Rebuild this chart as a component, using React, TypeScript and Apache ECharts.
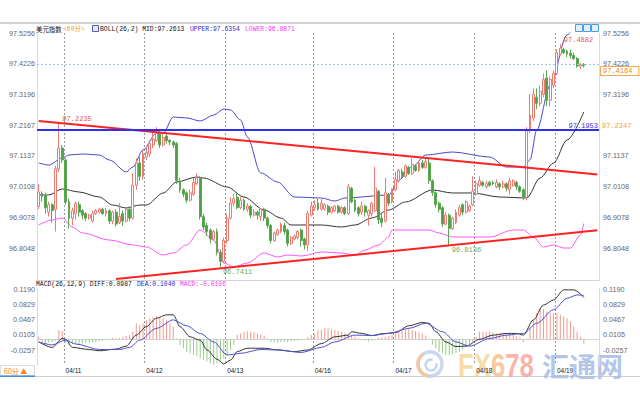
import React, { useEffect, useRef } from "react";
import * as echarts from "echarts";

// ---- axis / category data ----
const dayLabels = ["04/11", "04/12", "04/13", "04/16", "04/17", "04/18", "04/19"];
const dayStartIdx = [8, 32, 56, 82, 106, 130, 154];
const slotCount = 167;

const priceTicks = [96.8048, 96.9078, 97.0108, 97.1137, 97.2167, 97.3196, 97.4226, 97.5256];
const priceTicksRight = [96.8048, 96.9078, 97.0108, 97.1137, 97.3196, 97.4226, 97.5256];
const priceMin = 96.6976;
const priceMax = 97.5256;
const macdTicks = [-0.0257, 0.0105, 0.0467, 0.0829, 0.119];
const macdMin = -0.0606;
const macdMax = 0.119;

// ---- 60-minute candles (open, close, low, high) ----
const opens = [
  96.944, 96.988, 96.98, 96.925, 96.95, 96.935, 97.07, 97.14, 97.10, 96.96,
  96.905, 96.92, 96.95, 96.93, 96.92, 96.905, 96.895, 96.92, 96.925, 96.935,
  96.92, 96.93, 96.895, 96.925, 96.89, 96.92, 96.895, 96.935, 96.905, 97.015,
  97.09, 97.045, 97.11, 97.12, 97.15, 97.165, 97.19, 97.15, 97.18, 97.165,
  97.16, 97.155, 97.03, 97.0, 96.99, 96.965, 96.985, 97.02, 97.04, 96.91,
  96.88, 96.865, 96.835, 96.86, 96.79, 96.76, 96.83, 96.905, 96.955, 96.975,
  96.94, 96.965, 96.935, 96.945, 96.915, 96.925, 96.91, 96.935, 96.905, 96.88,
  96.83, 96.85, 96.86, 96.88, 96.865, 96.82, 96.835, 96.84, 96.865, 96.835,
  96.815, 96.915, 96.94, 96.955, 96.935, 96.935, 96.945, 96.925, 96.93, 96.945,
  96.925, 96.94, 96.92, 97.005, 96.965, 96.94, 96.925, 96.945, 96.915, 96.92,
  96.93, 96.995, 96.905, 96.895, 96.985, 96.96, 97.0, 97.03, 97.06, 97.045,
  97.075, 97.055, 97.08, 97.065, 97.09, 97.075, 97.09, 97.03, 96.99, 96.955,
  96.94, 96.885, 96.915, 96.87, 96.89, 96.915, 96.95, 96.925, 96.93, 96.95,
  96.985, 97.015, 97.025, 97.01, 97.025, 97.025, 97.01, 97.02, 97.01, 97.02,
  97.0, 97.015, 97.025, 97.01, 97.0, 96.975, 97.20, 97.24, 97.31, 97.29,
  97.32, 97.375, 97.30, 97.35, 97.39, 97.455, 97.47, 97.465, 97.458, 97.45,
  97.44, 97.415, 97.42,
];
const closes = [
  96.992, 96.977, 96.94, 96.95, 96.93, 97.07, 97.14, 97.10, 96.96, 96.905,
  96.93, 96.955, 96.925, 96.915, 96.905, 96.915, 96.92, 96.93, 96.935, 96.92,
  96.93, 96.895, 96.925, 96.885, 96.91, 96.895, 96.935, 96.905, 97.015, 97.09,
  97.045, 97.12, 97.125, 97.155, 97.17, 97.19, 97.15, 97.175, 97.165, 97.16,
  97.15, 97.03, 97.0, 96.985, 96.965, 96.99, 97.025, 97.04, 96.91, 96.875,
  96.86, 96.835, 96.86, 96.79, 96.76, 96.83, 96.905, 96.955, 96.97, 96.94,
  96.965, 96.935, 96.945, 96.915, 96.925, 96.915, 96.935, 96.905, 96.88, 96.83,
  96.855, 96.865, 96.885, 96.86, 96.82, 96.84, 96.845, 96.86, 96.83, 96.815,
  96.92, 96.945, 96.95, 96.935, 96.955, 96.95, 96.925, 96.94, 96.945, 96.925,
  96.94, 96.92, 97.01, 96.96, 96.93, 96.92, 96.945, 96.925, 96.93, 96.955,
  97.005, 96.90, 96.89, 96.99, 96.955, 97.0, 97.035, 97.065, 97.045, 97.08,
  97.055, 97.085, 97.065, 97.09, 97.075, 97.095, 97.03, 96.99, 96.95, 96.935,
  96.885, 96.915, 96.87, 96.905, 96.925, 96.94, 96.925, 96.96, 96.945, 96.995,
  97.02, 97.03, 97.015, 97.02, 97.015, 97.02, 97.025, 97.01, 97.02, 97.005,
  97.03, 97.03, 97.01, 96.995, 96.975, 97.20, 97.25, 97.32, 97.29, 97.33,
  97.37, 97.30, 97.37, 97.39, 97.46, 97.475, 97.46, 97.455, 97.45, 97.44,
  97.415, 97.42, 97.4164,
];
const lows = [
  96.935, 96.96, 96.92, 96.91, 96.89, 96.86, 97.06, 97.09, 96.95, 96.87,
  96.88, 96.90, 96.91, 96.90, 96.895, 96.90, 96.89, 96.915, 96.92, 96.915,
  96.91, 96.885, 96.885, 96.877, 96.885, 96.88, 96.89, 96.895, 96.90, 97.0,
  97.03, 97.035, 97.10, 97.11, 97.14, 97.16, 97.14, 97.145, 97.155, 97.15,
  97.14, 97.02, 96.99, 96.975, 96.955, 96.96, 96.98, 97.015, 96.90, 96.865,
  96.845, 96.82, 96.83, 96.78, 96.7411, 96.755, 96.82, 96.90, 96.945, 96.935,
  96.935, 96.93, 96.925, 96.905, 96.91, 96.90, 96.895, 96.895, 96.87, 96.82,
  96.825, 96.845, 96.855, 96.85, 96.81, 96.815, 96.83, 96.835, 96.81, 96.80,
  96.795, 96.91, 96.93, 96.93, 96.93, 96.93, 96.915, 96.92, 96.925, 96.92,
  96.92, 96.915, 96.915, 96.955, 96.925, 96.91, 96.915, 96.91, 96.88, 96.91,
  96.925, 96.885, 96.875, 96.89, 96.945, 96.955, 96.995, 97.025, 97.04, 97.04,
  97.05, 97.05, 97.06, 97.06, 97.07, 97.07, 97.02, 96.98, 96.94, 96.925,
  96.875, 96.88, 96.8136, 96.865, 96.885, 96.91, 96.915, 96.92, 96.925, 96.945,
  96.98, 97.01, 97.01, 97.005, 97.01, 97.015, 97.005, 97.0, 97.005, 96.995,
  96.985, 97.01, 97.0, 96.99, 96.965, 96.965, 97.19, 97.23, 97.27, 97.28,
  97.31, 97.28, 97.28, 97.34, 97.385, 97.45, 97.455, 97.445, 97.44, 97.435,
  97.41, 97.405, 97.41,
];
const highs = [
  97.02, 96.995, 96.99, 96.96, 96.955, 97.08, 97.2235, 97.15, 97.105, 96.97,
  96.94, 96.96, 96.96, 96.935, 96.925, 96.92, 96.93, 96.935, 96.94, 96.94,
  96.94, 96.935, 96.93, 96.935, 96.955, 96.93, 96.94, 96.945, 97.055, 97.105,
  97.11, 97.13, 97.14, 97.165, 97.2, 97.21, 97.2, 97.19, 97.19, 97.17,
  97.165, 97.16, 97.04, 97.005, 96.995, 97.0, 97.04, 97.055, 97.045, 96.92,
  96.89, 96.87, 96.865, 96.87, 96.8, 96.84, 96.92, 96.975, 96.985, 96.99,
  96.975, 96.97, 96.955, 96.95, 96.935, 96.93, 96.94, 96.94, 96.91, 96.885,
  96.86, 96.87, 96.89, 96.89, 96.87, 96.845, 96.85, 96.865, 96.87, 96.84,
  96.93, 96.96, 96.965, 96.97, 96.97, 96.955, 96.95, 96.945, 96.95, 96.95,
  96.945, 96.945, 97.02, 97.01, 96.97, 96.945, 96.96, 96.95, 96.935, 96.96,
  97.077, 97.0, 96.92, 97.04, 96.99, 97.005, 97.06, 97.07, 97.07, 97.085,
  97.08, 97.105, 97.085, 97.095, 97.10, 97.105, 97.105, 97.035, 96.995, 96.96,
  96.945, 96.925, 96.92, 96.91, 96.935, 96.95, 96.955, 96.965, 96.95, 97.045,
  97.03, 97.045, 97.03, 97.03, 97.03, 97.03, 97.035, 97.025, 97.03, 97.025,
  97.04, 97.035, 97.03, 97.015, 97.005, 97.21, 97.32, 97.34, 97.34, 97.35,
  97.39, 97.40, 97.38, 97.40, 97.47, 97.4882, 97.475, 97.47, 97.47, 97.46,
  97.445, 97.425, 97.425,
];

// ---- BOLL(26,2), read at points along the curves: [candle index, value] ----
const bollMid = [
  [0, 96.9826], [3, 96.9826], [7, 97.0027], [12, 96.9926], [18, 96.9758], [22, 96.949],
  [26, 96.939], [30, 96.949], [32, 96.949], [37, 96.9893], [41, 97.0261], [47, 97.0429],
  [49, 97.0395], [56, 97.0094], [61, 96.9758], [67, 96.9323], [72, 96.9054], [75, 96.882],
  [84, 96.882], [90, 96.8753], [94, 96.882], [99, 96.9054], [104, 96.9323], [109, 96.9591],
  [117, 96.9993], [123, 96.9893], [129, 96.9893], [137, 96.9758], [145, 96.9725],
  [149, 97.0396], [153, 97.0898], [157, 97.1669], [162, 97.2613],
];
const bollUpper = [
  [0, 97.0898], [3, 97.083], [7, 97.1066], [9, 97.1166], [13, 97.12], [18, 97.1166],
  [21, 97.1], [26, 97.06], [28, 97.0764], [31, 97.1334], [35, 97.19], [37, 97.19],
  [40, 97.244], [44, 97.2407], [48, 97.2306], [52, 97.2507], [55, 97.2708], [57, 97.2675],
  [60, 97.234], [62, 97.177], [66, 97.0563], [71, 97.0261], [76, 96.9758], [84, 96.9725],
  [88, 96.9624], [91, 96.9725], [104, 96.9825], [107, 97.0328], [111, 97.0764],
  [115, 97.1166], [123, 97.1267], [134, 97.1099], [139, 97.0764], [144, 97.0764],
  [146, 97.1], [148, 97.2004], [152, 97.35], [157, 97.519], [162, 97.6354],
];
const bollLower = [
  [0, 96.882], [4, 96.8987], [7, 96.9054], [10, 96.8753], [13, 96.8552], [21, 96.8317],
  [28, 96.815], [32, 96.8082], [37, 96.7814], [40, 96.7881], [44, 96.815], [48, 96.8652],
  [52, 96.8317], [55, 96.7546], [58, 96.7412], [62, 96.7546], [67, 96.7881], [71, 96.7747],
  [74, 96.7814], [78, 96.778], [84, 96.7915], [90, 96.7881], [94, 96.7814], [97, 96.7981],
  [101, 96.815], [104, 96.8417], [105, 96.8652], [109, 96.8652], [116, 96.8652],
  [119, 96.8552], [123, 96.8417], [134, 96.8417], [141, 96.8652], [144, 96.8652],
  [147, 96.8417], [150, 96.8082], [153, 96.815], [156, 96.8048], [158, 96.8048],
  [161, 96.8484], [162, 96.8871],
];

// ---- MACD(26,12,9) ----
const macdDiff = [
  [0, -0.006], [4, -0.019], [7, 0.002], [8, 0.0], [10, -0.019], [15, -0.024], [18, -0.027],
  [23, -0.023], [26, -0.016], [29, 0.01], [32, 0.03], [35, 0.05], [38, 0.058], [40, 0.058],
  [42, 0.03], [45, 0.006], [48, -0.002], [50, -0.025], [53, -0.047], [55, -0.058],
  [57, -0.049], [59, -0.029], [62, -0.021], [67, -0.021], [71, -0.025], [76, -0.029],
  [80, -0.025], [84, -0.01], [88, 0.006], [92, 0.01], [93, 0.018], [96, 0.014], [99, 0.009],
  [102, 0.013], [106, 0.016], [110, 0.032], [114, 0.04], [116, 0.038], [118, 0.018],
  [121, -0.006], [124, -0.017], [127, -0.016], [131, 0.0], [135, 0.01], [139, 0.014],
  [142, 0.014], [144, 0.01], [147, 0.046], [150, 0.081], [153, 0.093], [156, 0.117],
  [159, 0.117], [162, 0.0987],
];
const macdDea = [
  [0, -0.006], [4, -0.013], [8, -0.002], [11, -0.011], [18, -0.024], [24, -0.024],
  [27, -0.019], [30, -0.002], [35, 0.026], [40, 0.046], [44, 0.032], [48, 0.014],
  [52, -0.006], [56, -0.037], [60, -0.033], [66, -0.024], [71, -0.025], [78, -0.031],
  [84, -0.019], [88, -0.006], [94, 0.01], [99, 0.009], [104, 0.014], [110, 0.026],
  [115, 0.038], [120, 0.018], [124, -0.006], [128, -0.016], [134, 0.002], [139, 0.01],
  [144, 0.014], [148, 0.038], [153, 0.07], [157, 0.097], [160, 0.105], [162, 0.104],
];
const macdHist = [
  0.006, -0.006, -0.008, -0.008, -0.006, -0.003, 0.022, 0.02, -0.008, -0.013,
  -0.011, -0.01, -0.011, -0.01, -0.008, -0.008, -0.006, -0.006, -0.005, -0.003,
  -0.002, 0.002, 0.003, 0.002, 0.004, 0.006, 0.008, 0.01, 0.018, 0.038,
  0.034, 0.038, 0.046, 0.05, 0.054, 0.054, 0.05, 0.05, 0.046, 0.038,
  0.03, 0.002, -0.013, -0.021, -0.029, -0.033, -0.037, -0.04, -0.045, -0.048,
  -0.052, -0.057, -0.061, -0.057, -0.052, -0.045, -0.037, -0.025, -0.013, 0.01,
  0.014, 0.018, 0.02, 0.018, 0.017, 0.014, 0.012, 0.009, 0.002, -0.006,
  -0.007, -0.008, -0.006, -0.006, -0.006, -0.005, -0.004, -0.003, -0.002, -0.001,
  0.006, 0.01, 0.014, 0.022, 0.022, 0.026, 0.028, 0.024, 0.022, 0.02,
  0.018, 0.016, 0.014, 0.01, 0.006, 0.002, -0.002, -0.003, -0.005, -0.003,
  -0.001, 0.004, 0.006, 0.006, 0.008, 0.01, 0.014, 0.018, 0.021, 0.022,
  0.024, 0.022, 0.02, 0.017, 0.014, 0.009, 0.002, -0.013, -0.021, -0.029,
  -0.033, -0.037, -0.037, -0.035, -0.032, -0.029, -0.024, -0.017, -0.011, -0.006,
  0.006, 0.018, 0.018, 0.018, 0.018, 0.017, 0.014, 0.014, 0.014, 0.014,
  0.013, 0.01, 0.008, 0.006, -0.006, 0.002, 0.03, 0.046, 0.062, 0.074,
  0.071, 0.066, 0.062, 0.062, 0.062, 0.058, 0.054, 0.05, 0.042, 0.03,
  0.018, 0.006, -0.0106,
];

// ---- drawn lines and marked values ----
const upperTrend = [[0, 97.2306], [166, 97.0516]];
const lowerTrend = [[23, 96.7009], [166, 96.864]];
const supportLevel = 97.1953;
const lastPrice = 97.4164;
const markedLevel = 97.2347;
const extremes = [
  { idx: 6, value: 97.2235, high: true },
  { idx: 54, value: 96.7411, high: false },
  { idx: 122, value: 96.8136, high: false },
  { idx: 155, value: 97.4882, high: true },
];
const legendMain = { mid: "97.2613", upper: "97.6354", lower: "96.8871" };
const legendMacd = { diff: "0.0987", dea: "0.1040", macd: "-0.0106" };

const MONO = '"Liberation Mono", "DejaVu Sans Mono", monospace';
const CJK = '"Noto Sans CJK SC", sans-serif';
const SANS = '"Liberation Sans", Arial, sans-serif';

const categories = Array.from({ length: slotCount }, (_, i) => "t" + i);

function xAxisFor(gridIndex: number, showLabel: boolean) {
  return {
    type: "category",
    gridIndex,
    data: categories,
    boundaryGap: true,
    axisLine: { show: true, lineStyle: { color: "#d4d4d4" } },
    axisTick: { show: false },
    axisLabel: showLabel
      ? {
          show: true,
          interval: (i: number) => dayStartIdx.includes(i),
          formatter: (_v: string, i: number) => {
            const k = dayStartIdx.indexOf(i);
            return k >= 0 ? dayLabels[k] : "";
          },
          align: "left",
          margin: 2,
          fontSize: 6.5,
          color: "#222",
          fontFamily: SANS,
        }
      : { show: false },
    splitLine: {
      show: true,
      interval: (i: number) => dayStartIdx.includes(i),
      lineStyle: { color: "#9a9a9a", type: [2, 2], width: 1 },
    },
  };
}

function yAxisFor(gridIndex: number, position: string, min: number, max: number, ticks: number[]) {
  return {
    type: "value",
    gridIndex,
    position,
    min,
    max,
    axisLine: { show: true, lineStyle: { color: "#dadada" } },
    axisTick: { show: false },
    splitLine: { show: false },
    axisLabel: {
      customValues: ticks,
      formatter: (v: number) => v.toFixed(4),
      fontSize: 7.2,
      color: "#666",
      margin: position === "left" ? 2 : 4,
      fontFamily: SANS,
    },
  };
}

function legendText(x: number, y: number, text: string, fill: string, font = MONO) {
  return {
    type: "text",
    silent: true,
    x,
    y,
    style: { text, fill, fontSize: 6.4, fontFamily: font, verticalAlign: "middle", align: "left" },
  };
}

export default function App() {
  const ref = useRef<HTMLDivElement>(null);

  useEffect(() => {
    if (!ref.current) return;
    const chart = echarts.init(ref.current, null, { renderer: "svg" });
    const candleData = opens.map((o, i) => [o, closes[i], lows[i], highs[i]]);

    const option: any = {
      animation: false,
      backgroundColor: "#ffffff",
      grid: [
        { left: 37, right: 41, top: 33, height: 247 },
        { left: 37, right: 41, top: 289, height: 76 },
      ],
      xAxis: [xAxisFor(0, false), xAxisFor(1, true)],
      yAxis: [
        yAxisFor(0, "left", priceMin, priceMax, priceTicks),
        yAxisFor(0, "right", priceMin, priceMax, priceTicksRight),
        yAxisFor(1, "left", macdMin, macdMax, macdTicks),
        yAxisFor(1, "right", macdMin, macdMax, macdTicks),
      ],
      series: [
        {
          type: "candlestick",
          xAxisIndex: 0,
          yAxisIndex: 0,
          data: candleData,
          barWidth: 2.4,
          itemStyle: {
            color: "#ffffff",
            color0: "#4f9e46",
            borderColor: "#ee7b72",
            borderColor0: "#5aa851",
            borderWidth: 1,
          },
          markPoint: {
            symbol: "circle",
            symbolSize: 1,
            itemStyle: { color: "rgba(0,0,0,0)" },
            silent: true,
            data: extremes.map((e) => ({
              coord: [e.idx, e.value],
              value: e.value,
              label: {
                show: true,
                position: "right",
                distance: e.high ? 3 : 2,
                offset: e.high ? [0, -4] : [0, 4.5],
                formatter: () => e.value.toFixed(4),
                color: e.high ? "#e05a55" : "#6aaa58",
                fontSize: 7,
                fontFamily: MONO,
              },
            })),
          },
          markLine: {
            symbol: ["none", "none"],
            silent: true,
            data: [
              {
                yAxis: supportLevel,
                lineStyle: { color: "#2f2ff0", width: 2, type: "solid" },
                label: {
                  show: true,
                  position: "insideEndTop",
                  distance: 1,
                  formatter: supportLevel.toFixed(4),
                  color: "#3535e0",
                  fontSize: 7,
                  fontFamily: MONO,
                },
              },
              {
                yAxis: lastPrice,
                lineStyle: { color: "#92ccf2", width: 1, type: [2, 2] },
                label: {
                  show: true,
                  position: "end",
                  distance: 2,
                  offset: [0, 6.5],
                  formatter: lastPrice.toFixed(4),
                  color: "#f08a10",
                  backgroundColor: "#ffffff",
                  borderColor: "#f5a94a",
                  borderWidth: 1,
                  padding: [1, 6, 0, 2],
                  fontSize: 7,
                  fontFamily: MONO,
                },
              },
              {
                yAxis: markedLevel,
                lineStyle: { color: "rgba(0,0,0,0)", width: 0 },
                label: {
                  show: true,
                  position: "end",
                  distance: 3,
                  offset: [0, 4.5],
                  formatter: markedLevel.toFixed(4),
                  color: "#f0a030",
                  fontSize: 7,
                  fontFamily: MONO,
                },
              },
            ],
          },
          z: 3,
        },
        {
          type: "line",
          name: "MID",
          xAxisIndex: 0,
          yAxisIndex: 0,
          data: bollMid,
          showSymbol: false,
          smooth: 0.3,
          smoothMonotone: "x",
          lineStyle: { color: "#333333", width: 1 },
          z: 2,
        },
        {
          type: "line",
          name: "UPPER",
          xAxisIndex: 0,
          yAxisIndex: 0,
          data: bollUpper,
          showSymbol: false,
          smooth: 0.3,
          smoothMonotone: "x",
          lineStyle: { color: "#4848c8", width: 1 },
          z: 2,
        },
        {
          type: "line",
          name: "LOWER",
          xAxisIndex: 0,
          yAxisIndex: 0,
          data: bollLower,
          showSymbol: false,
          smooth: 0.3,
          smoothMonotone: "x",
          lineStyle: { color: "#ff55ff", width: 1 },
          z: 2,
        },
        {
          type: "line",
          xAxisIndex: 0,
          yAxisIndex: 0,
          data: upperTrend,
          showSymbol: false,
          lineStyle: { color: "#ff2222", width: 2 },
          z: 4,
        },
        {
          type: "line",
          xAxisIndex: 0,
          yAxisIndex: 0,
          data: lowerTrend,
          showSymbol: false,
          lineStyle: { color: "#ff2222", width: 2 },
          z: 4,
        },
        {
          type: "bar",
          xAxisIndex: 1,
          yAxisIndex: 2,
          data: macdHist,
          barWidth: 1,
          itemStyle: {
            color: (p: any) => (p.value >= 0 ? "#f09a92" : "#98cc88"),
          },
          z: 1,
        },
        {
          type: "line",
          xAxisIndex: 1,
          yAxisIndex: 2,
          data: macdDiff,
          showSymbol: false,
          smooth: 0.3,
          smoothMonotone: "x",
          lineStyle: { color: "#333333", width: 1 },
          z: 3,
        },
        {
          type: "line",
          xAxisIndex: 1,
          yAxisIndex: 2,
          data: macdDea,
          showSymbol: false,
          smooth: 0.3,
          smoothMonotone: "x",
          lineStyle: { color: "#4f4fd6", width: 1 },
          z: 3,
        },
      ],
      graphic: [
        { type: "rect", silent: true, shape: { x: 0, y: 22, width: 640, height: 2 }, style: { fill: "#d2d2d2" } },
        // main legend
        legendText(36, 29, "美元指数", "#111", CJK),
        legendText(63, 29, "<60分>", "#f0a030", '"Liberation Mono", "Noto Sans CJK SC", monospace'),
        { type: "rect", silent: true, shape: { x: 92.5, y: 25.5, width: 6, height: 6 }, style: { fill: "#e6eaf8", stroke: "#5060c0", lineWidth: 1 } },
        legendText(100, 29, "BOLL(26,2) MID:" + legendMain.mid, "#111"),
        legendText(190, 29, "UPPER:" + legendMain.upper, "#2828c8"),
        legendText(245, 29, "LOWER:" + legendMain.lower, "#ff33ff"),
        // toolbar icons
        { type: "rect", silent: true, shape: { x: 575.5, y: 24.5, width: 7, height: 7 }, style: { fill: "#dff0fb", stroke: "#4a9ee0", lineWidth: 1 } },
        { type: "rect", silent: true, shape: { x: 583.5, y: 24.5, width: 7, height: 7 }, style: { fill: "#dff0fb", stroke: "#4a9ee0", lineWidth: 1 } },
        { type: "rect", silent: true, shape: { x: 591.5, y: 24.5, width: 7, height: 7 }, style: { fill: "#dff0fb", stroke: "#4a9ee0", lineWidth: 1 } },
        // MACD legend
        legendText(36, 284, "MACD(26,12,9) DIFF:" + legendMacd.diff, "#111"),
        legendText(137, 284, "DEA:" + legendMacd.dea, "#2828c8"),
        legendText(180, 284, "MACD:" + legendMacd.macd, "#ff33ff"),
        // bottom bar
        { type: "rect", silent: true, shape: { x: 0, y: 376, width: 640, height: 1 }, style: { fill: "#d0d0d0" } },
        { type: "rect", silent: true, shape: { x: 0.5, y: 365.5, width: 34, height: 10 }, style: { fill: "#fbfbfb", stroke: "#dddddd", lineWidth: 1 } },
        { type: "rect", silent: true, shape: { x: 0, y: 375.5, width: 35, height: 1.5 }, style: { fill: "#3d8fdf" } },
        {
          type: "text",
          silent: true,
          x: 4,
          y: 370.5,
          style: { text: "60分 ▲", fill: "#f08a1c", fontSize: 7, fontFamily: CJK, verticalAlign: "middle" },
        },
        // watermark
        { type: "circle", silent: true, shape: { cx: 430, cy: 364, r: 12 }, style: { fill: "none", stroke: "#bfd1ee", lineWidth: 3.5, opacity: 0.85 } },
        { type: "arc", silent: true, shape: { cx: 430, cy: 364, r: 12, startAngle: Math.PI * 0.55, endAngle: Math.PI * 1.3 }, style: { fill: "none", stroke: "#f7c48f", lineWidth: 3.5, opacity: 0.85 } },
        { type: "arc", silent: true, shape: { cx: 431, cy: 365, r: 5.5, startAngle: -Math.PI * 0.1, endAngle: Math.PI * 1.6 }, style: { fill: "none", stroke: "#b9cdea", lineWidth: 2.5, opacity: 0.85 } },
        {
          type: "text",
          silent: true,
          x: 458,
          y: 365,
          scaleX: 0.78,
          style: {
            text: "{a|FX}{b|6}{c|78}",
            fontSize: 33,
            fontWeight: "bold",
            fontFamily: SANS,
            verticalAlign: "middle",
            opacity: 0.8,
            rich: {
              a: { fill: "#f8d290", fontSize: 33, fontWeight: "bold", fontFamily: SANS },
              b: { fill: "#f7b884", fontSize: 33, fontWeight: "bold", fontFamily: SANS },
              c: { fill: "#f5a08f", fontSize: 33, fontWeight: "bold", fontFamily: SANS },
            },
          },
        },
        {
          type: "text",
          silent: true,
          x: 542,
          y: 365,
          style: {
            text: "汇通网",
            fill: "#a6bce4",
            fontSize: 27,
            fontWeight: "bold",
            fontFamily: CJK,
            verticalAlign: "middle",
            opacity: 0.85,
          },
        },
      ],
    };

    chart.setOption(option);
    return () => chart.dispose();
  }, []);

  return (
    <div
      ref={ref}
      style={{ position: "fixed", left: 0, top: 0, width: 640, height: 400, background: "#fff" }}
    />
  );
}
